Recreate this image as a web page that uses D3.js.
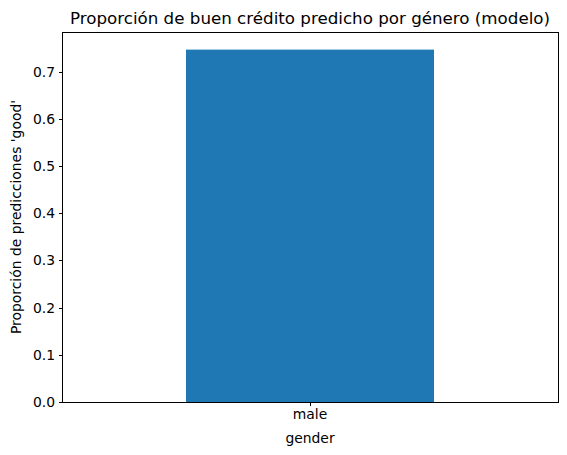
<!DOCTYPE html>
<html><head><meta charset="utf-8">
<script src="https://cdn.jsdelivr.net/npm/d3@7"></script>
<style>body{margin:0;background:#fff}svg{display:block;font-family:"DejaVu Sans",sans-serif}</style>
</head><body>
<script>
const categories = ["male"];
const values = [0.747];
const yTicks = [0.0,0.1,0.2,0.3,0.4,0.5,0.6,0.7];
const title = "Proporción de buen crédito predicho por género (modelo)";
const xLabel = "gender";
const yLabel = "Proporción de predicciones 'good'";

const W=567,H=455, m={l:62,r:9,t:32,b:53};
const svg=d3.select("body").append("svg").attr("width",W).attr("height",H);
const iw=W-m.l-m.r, ih=H-m.t-m.b;
const g=svg.append("g").attr("transform",`translate(${m.l},${m.t})`);
const x=d3.scaleBand().domain(categories).range([0,iw]).paddingInner(0).paddingOuter(0.5);
const y=d3.scaleLinear().domain([0,d3.max(values)*1.05]).range([ih,0]);
g.selectAll("rect.bar").data(values).join("rect").attr("class","bar")
 .attr("x",(d,i)=>x(categories[i])).attr("width",x.bandwidth())
 .attr("y",d=>y(d)).attr("height",d=>ih-y(d)).attr("fill","#1f77b4");
const ya=g.append("g").call(d3.axisLeft(y).tickValues(yTicks).tickFormat(d3.format(".1f")).tickSize(3.5).tickPadding(3.5));
const xa=g.append("g").attr("transform",`translate(0,${ih})`).call(d3.axisBottom(x).tickSize(3.5).tickPadding(3.5));
[ya,xa].forEach(a=>{a.select(".domain").remove();a.selectAll("text").attr("font-size","13.9px").attr("fill","#000").attr("font-family","DejaVu Sans");a.selectAll("line").attr("stroke","#000").attr("stroke-width",1).attr("shape-rendering","crispEdges");});
g.append("rect").attr("x",0.5).attr("y",0.5).attr("width",iw).attr("height",ih).attr("fill","none").attr("stroke","#000").attr("stroke-width",1).attr("shape-rendering","crispEdges");
svg.append("text").attr("x",m.l+iw/2).attr("y",m.t-8).attr("text-anchor","middle").attr("font-size","16.7px").text(title);
svg.append("text").attr("x",m.l+iw/2).attr("y",H-12).attr("text-anchor","middle").attr("font-size","13.9px").text(xLabel);
svg.append("text").attr("transform",`translate(21,${m.t+ih/2}) rotate(-90)`).attr("text-anchor","middle").attr("font-size","13.9px").text(yLabel);
</script>
</body></html>
